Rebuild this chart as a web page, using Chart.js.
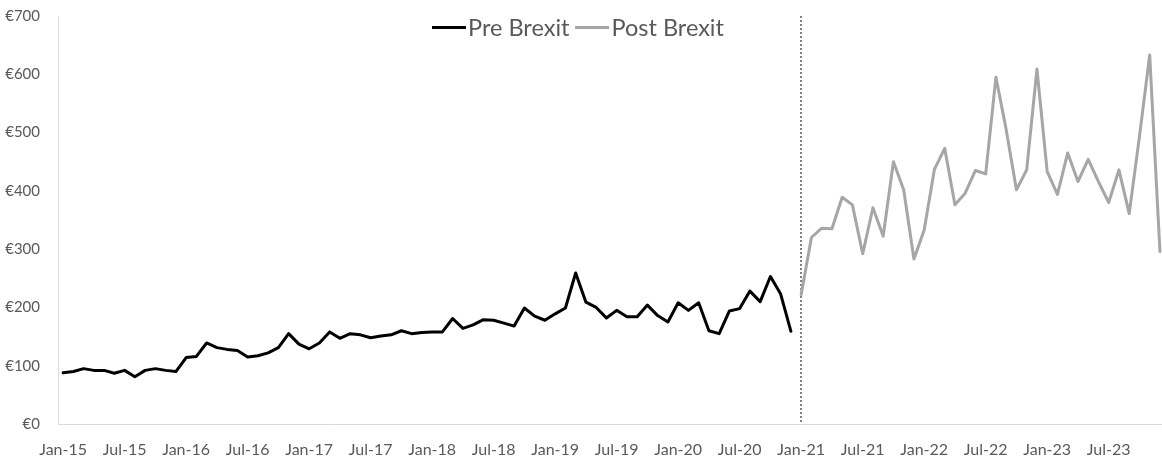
<!DOCTYPE html>
<html>
<head>
<meta charset="utf-8">
<script src="https://cdn.jsdelivr.net/npm/chart.js@4/dist/chart.umd.min.js"></script>
<style>
  html, body { margin: 0; padding: 0; background: #fff; overflow: hidden; }
  #wrap { position: relative; width: 1162px; height: 464px; }
  #legend {
    position: absolute; top: 15px; left: 0; width: 1156px;
    display: flex; justify-content: center; align-items: center;
    font-family: Lato, "Open Sans", sans-serif; font-size: 23.5px; color: #595959;
    line-height: 24px; pointer-events: none;
  }
  #legend .item { display: flex; align-items: center; margin: 0 3px; }
  #legend .swatch { display: inline-block; width: 34px; height: 3px; margin-right: 2px; }
</style>
</head>
<body>
<div id="wrap">
  <canvas id="chart"></canvas>
  <div id="legend"></div>
</div>
<script>
// Monthly categories, Jan-15 .. Dec-23
const months = [
  'Jan-15','Feb-15','Mar-15','Apr-15','May-15','Jun-15','Jul-15','Aug-15','Sep-15','Oct-15','Nov-15','Dec-15',
  'Jan-16','Feb-16','Mar-16','Apr-16','May-16','Jun-16','Jul-16','Aug-16','Sep-16','Oct-16','Nov-16','Dec-16',
  'Jan-17','Feb-17','Mar-17','Apr-17','May-17','Jun-17','Jul-17','Aug-17','Sep-17','Oct-17','Nov-17','Dec-17',
  'Jan-18','Feb-18','Mar-18','Apr-18','May-18','Jun-18','Jul-18','Aug-18','Sep-18','Oct-18','Nov-18','Dec-18',
  'Jan-19','Feb-19','Mar-19','Apr-19','May-19','Jun-19','Jul-19','Aug-19','Sep-19','Oct-19','Nov-19','Dec-19',
  'Jan-20','Feb-20','Mar-20','Apr-20','May-20','Jun-20','Jul-20','Aug-20','Sep-20','Oct-20','Nov-20','Dec-20',
  'Jan-21','Feb-21','Mar-21','Apr-21','May-21','Jun-21','Jul-21','Aug-21','Sep-21','Oct-21','Nov-21','Dec-21',
  'Jan-22','Feb-22','Mar-22','Apr-22','May-22','Jun-22','Jul-22','Aug-22','Sep-22','Oct-22','Nov-22','Dec-22',
  'Jan-23','Feb-23','Mar-23','Apr-23','May-23','Jun-23','Jul-23','Aug-23','Sep-23','Oct-23','Nov-23','Dec-23'
];

// Labelled months on the x axis
const tickLabels = [
  'Jan-15','Jul-15','Jan-16','Jul-16','Jan-17','Jul-17','Jan-18','Jul-18','Jan-19',
  'Jul-19','Jan-20','Jul-20','Jan-21','Jul-21','Jan-22','Jul-22','Jan-23','Jul-23'
];

// Values in euro, Jan-15 .. Dec-20
const preBrexit = [
  88, 90, 95, 92, 92, 87, 92, 81, 92, 95, 92, 90,
  114, 116, 139, 131, 128, 126, 115, 117, 122, 131, 155, 137,
  129, 139, 158, 147, 155, 153, 148, 151, 153, 160, 155, 157,
  158, 158, 181, 164, 170, 179, 178, 173, 168, 199, 185, 178,
  189, 199, 259, 209, 200, 182, 195, 184, 184, 204, 186, 175,
  208, 195, 208, 160, 155, 194, 198, 228, 210, 253, 223, 159
];

// Values in euro, Jan-21 .. Dec-23
const postBrexit = [
  222, 320, 336, 335, 389, 376, 292, 371, 322, 450, 402, 283,
  333, 437, 473, 376, 396, 435, 429, 595, 505, 402, 436, 609,
  433, 394, 465, 416, 454, 416, 380, 436, 361, 493, 633, 296
];

// Month where the post-Brexit period starts
const splitMonth = 'Jan-21';

const yTicks = [0, 100, 200, 300, 400, 500, 600, 700];

const preStart = months.indexOf('Jan-15');
const postStart = months.indexOf(splitMonth);

const textColor = '#595959';
const axisColor = '#d9d9d9';

// Dotted divider at the start of the post-Brexit period
const splitLine = {
  id: 'splitLine',
  beforeDatasetsDraw(chart) {
    const {ctx, chartArea, scales} = chart;
    const x = Math.round(scales.x.getPixelForValue(postStart));
    ctx.save();
    ctx.strokeStyle = '#7f7f7f';
    ctx.lineWidth = 2;
    ctx.setLineDash([2, 2]);
    ctx.beginPath();
    ctx.moveTo(x, chartArea.top);
    ctx.lineTo(x, chartArea.bottom);
    ctx.stroke();
    ctx.restore();
  }
};

// Legend rendered as HTML, laid over the top of the plot
const htmlLegend = {
  id: 'htmlLegend',
  afterUpdate(chart) {
    const box = document.getElementById('legend');
    box.innerHTML = '';
    chart.data.datasets.forEach(ds => {
      const item = document.createElement('span');
      item.className = 'item';
      const sw = document.createElement('span');
      sw.className = 'swatch';
      sw.style.background = ds.borderColor;
      const txt = document.createElement('span');
      txt.textContent = ds.label;
      item.appendChild(sw);
      item.appendChild(txt);
      box.appendChild(item);
    });
  }
};

new Chart(document.getElementById('chart'), {
  type: 'line',
  data: {
    datasets: [
      {
        label: 'Pre Brexit',
        data: preBrexit.map((v, i) => ({x: preStart + i, y: v})),
        borderColor: '#000000',
        backgroundColor: '#000000',
        borderWidth: 3,
        pointRadius: 0,
        tension: 0,
        borderJoinStyle: 'round',
        borderCapStyle: 'round'
      },
      {
        label: 'Post Brexit',
        data: postBrexit.map((v, i) => ({x: postStart + i, y: v})),
        borderColor: '#a6a6a6',
        backgroundColor: '#a6a6a6',
        borderWidth: 3,
        pointRadius: 0,
        tension: 0,
        borderJoinStyle: 'round',
        borderCapStyle: 'round'
      }
    ]
  },
  options: {
    responsive: true,
    maintainAspectRatio: false,
    devicePixelRatio: 1,
    animation: false,
    layout: { padding: { top: 16, right: 0, bottom: 0, left: 0 } },
    plugins: {
      legend: { display: false },
      tooltip: { enabled: false }
    },
    scales: {
      x: {
        type: 'linear',
        min: -0.5,
        max: 107.2,
        afterBuildTicks(scale) {
          scale.ticks = tickLabels.map(l => ({ value: months.indexOf(l) }));
        },
        afterFit(scale) { scale.height = 40; },
        ticks: {
          autoSkip: false,
          maxRotation: 0,
          padding: 16,
          color: textColor,
          font: { family: 'Lato', size: 16 },
          callback: v => months[v]
        },
        grid: { display: false, drawTicks: false },
        border: { display: true, color: axisColor, width: 1 }
      },
      y: {
        min: 0,
        max: 700,
        afterBuildTicks(scale) {
          scale.ticks = yTicks.map(v => ({ value: v }));
        },
        afterFit(scale) {
          scale.width = 58;
          scale.paddingTop = 0;
          scale.paddingBottom = 0;
        },
        ticks: {
          padding: 18,
          color: textColor,
          font: { family: 'Lato', size: 15 },
          callback: v => '€' + v
        },
        grid: { display: false, drawTicks: false },
        border: { display: true, color: axisColor, width: 1 }
      }
    }
  },
  plugins: [splitLine, htmlLegend]
});
</script>
</body>
</html>
